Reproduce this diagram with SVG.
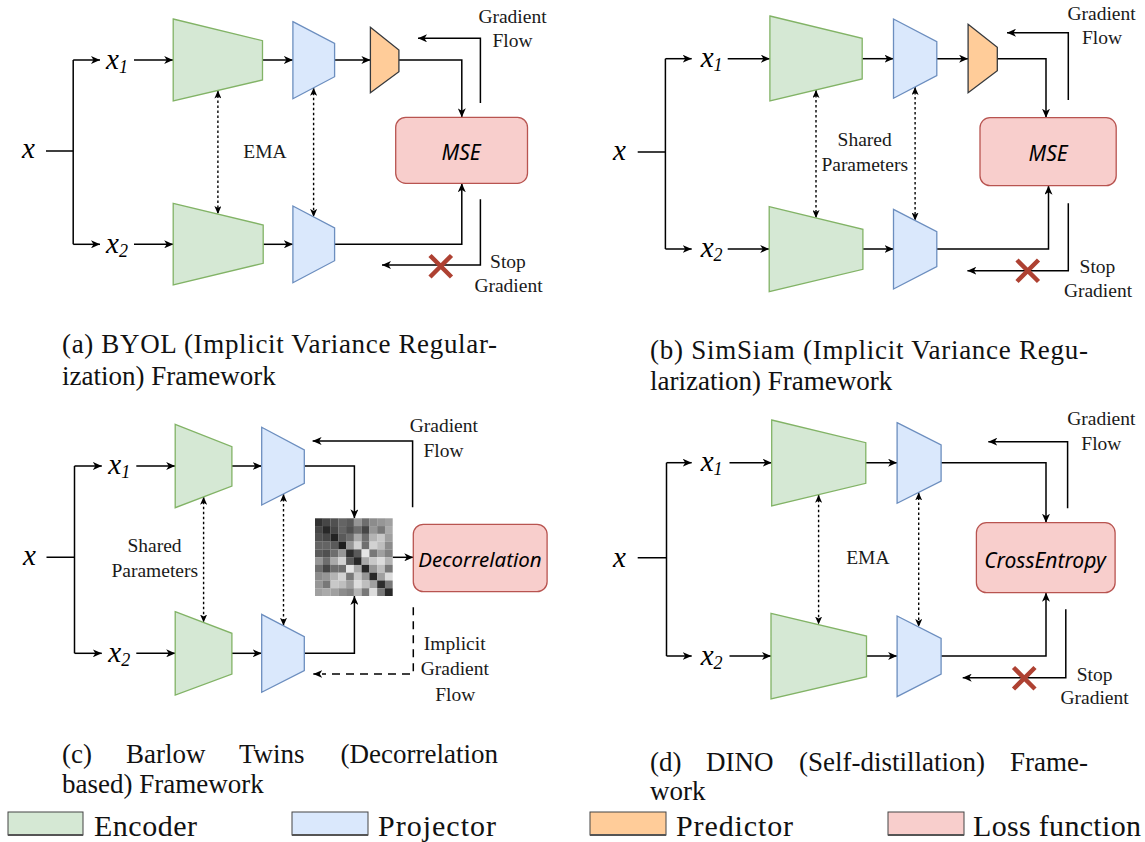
<svg xmlns="http://www.w3.org/2000/svg" width="1145" height="842" viewBox="0 0 1145 842">
<style>
.enc{fill:#d5e8d4;stroke:#82b366;stroke-width:1.3}
.proj{fill:#dae8fc;stroke:#6c8ebf;stroke-width:1.3}
.pred{fill:#ffcc99;stroke:#36393d;stroke-width:1.3}
.loss{fill:#f8cecc;stroke:#b85450;stroke-width:1.3}
.ln{fill:none;stroke:#000;stroke-width:1.5}
.ar{fill:none;stroke:#000;stroke-width:1.5;marker-end:url(#arr)}
.dot{fill:none;stroke:#000;stroke-width:1.4;stroke-dasharray:2.5 2.5;marker-start:url(#sarr);marker-end:url(#sarr)}
.dash{fill:none;stroke:#000;stroke-width:1.5;stroke-dasharray:8 6}
.cross{stroke:#ae4132;stroke-width:4.5;fill:none}
.lbl{font-family:"Liberation Serif",serif;font-size:19.5px;fill:#1a1a1a;text-anchor:middle}
.var{font-family:"Liberation Serif",serif;font-style:italic;font-size:29px;fill:#000}
.sub{font-size:18px}
.lt{font-family:"Noto Sans",sans-serif;font-style:italic;font-size:21px;fill:#000;text-anchor:middle}
.cap{font-family:"Liberation Serif",serif;font-size:27px;fill:#111}
.leg{font-family:"Liberation Serif",serif;font-size:30px;fill:#111}
.lr{stroke:#444;stroke-width:1}
</style>
<defs>
<marker id="arr" viewBox="0 0 9 8" refX="9" refY="4" markerWidth="9" markerHeight="8" markerUnits="userSpaceOnUse" orient="auto"><path d="M0,0 L9,4 L0,8 L2.5,4 z" fill="#000"/></marker>
<marker id="sarr" viewBox="0 0 8 7" refX="8" refY="3.5" markerWidth="8" markerHeight="7" markerUnits="userSpaceOnUse" orient="auto-start-reverse"><path d="M0,0 L8,3.5 L0,7 L2,3.5 z" fill="#000"/></marker>
</defs>
<rect width="1145" height="842" fill="#fff"/>

<!-- connectors -->
<g id="connectors">
<!-- (a) -->
<path class="ln" d="M46,151 H73.2 M73.2,60 V244.3"/>
<path class="ar" d="M73.2,60 H100"/>
<path class="ar" d="M73.2,244.3 H100"/>
<path class="ar" d="M134,60 H173.2"/>
<path class="ar" d="M262.5,60 H292.9"/>
<path class="ar" d="M334.6,60 H370.4"/>
<path class="ar" d="M399,60 H461.8 V117.3"/>
<path class="ar" d="M134,244.3 H173.2"/>
<path class="ar" d="M263.2,244.3 H292.9"/>
<path class="ar" d="M334.6,244.3 H461.8 V183.3"/>
<path class="ar" d="M480.4,103 V38.3 H418"/>
<path class="ar" d="M480.4,199.3 V265 H382"/>
<path class="dot" d="M217.9,90.5 V214.1"/>
<path class="dot" d="M313.6,87.8 V216.9"/>
<!-- (b) -->
<path class="ln" d="M637.7,152 H665.4 M665.4,58.7 V249"/>
<path class="ar" d="M665.4,58.7 H691.7"/>
<path class="ar" d="M665.4,249 H691.7"/>
<path class="ar" d="M727.7,58.7 H769.9"/>
<path class="ar" d="M862.2,58.7 H893.5"/>
<path class="ar" d="M936.8,58.7 H968.1"/>
<path class="ar" d="M997.3,58.7 H1046 V117.7"/>
<path class="ar" d="M727.7,249 H769.2"/>
<path class="ar" d="M862.9,249 H893.5"/>
<path class="ar" d="M936.8,249 H1048.5 V185.7"/>
<path class="ar" d="M1068.3,100 V32.7 H1007"/>
<path class="ar" d="M1068.3,203.3 V270.7 H967.4"/>
<path class="dot" d="M816,90 V218"/>
<path class="dot" d="M915.1,87 V220.5"/>
<!-- (c) -->
<path class="ln" d="M46.5,557.3 H74.5 M74.5,466 V653.3"/>
<path class="ar" d="M74.5,466 H101.8"/>
<path class="ar" d="M74.5,653.3 H101.8"/>
<path class="ar" d="M136.3,466 H175.2"/>
<path class="ar" d="M231.9,466 H261.7"/>
<path class="ar" d="M304.3,466 H354.4 V518.3"/>
<path class="ar" d="M136.3,653.3 H175.2"/>
<path class="ar" d="M231.9,653.3 H261.7"/>
<path class="ar" d="M304.3,653.3 H354.4 V596"/>
<path class="ar" d="M392.7,557.3 H413.3"/>
<path class="ar" d="M412.6,507.3 V441 H312.6"/>
<path class="dash" d="M413.3,607.3 V674 H322"/>
<path class="ar" d="M320,674 H313.3"/>
<path class="dot" d="M203.6,496.8 V622.5"/>
<path class="dot" d="M283.5,493.9 V625.8"/>
<!-- (d) -->
<path class="ln" d="M637.7,557.7 H666.5 M666.5,462.7 V656"/>
<path class="ar" d="M666.5,462.7 H691.7"/>
<path class="ar" d="M666.5,656 H691.7"/>
<path class="ar" d="M729.5,462.7 H771.7"/>
<path class="ar" d="M865.8,462.7 H897.1"/>
<path class="ar" d="M941.1,462.7 H1046 V522.7"/>
<path class="ar" d="M729.5,656 H771"/>
<path class="ar" d="M866.5,656 H897.1"/>
<path class="ar" d="M941.1,656 H1046 V592.7"/>
<path class="ar" d="M1067.6,508.3 V441.7 H988.3"/>
<path class="ar" d="M1065.8,609.3 V677.7 H962.7"/>
<path class="dot" d="M818.6,494.7 V624.6"/>
<path class="dot" d="M918.7,492.4 V627"/>
<!-- stop-gradient crosses -->
<path class="cross" d="M430,255.5 L451.5,277 M451.5,255.5 L430,277"/>
<path class="cross" d="M1017,260 L1038.5,281.5 M1038.5,260 L1017,281.5"/>
<path class="cross" d="M1013.5,667.5 L1035,689 M1035,667.5 L1013.5,689"/>
</g>

<!-- panel (a) -->
<g id="a-x"><text class="var" x="22" y="158">x</text></g>
<g id="a-x1"><text class="var" x="106" y="69">x<tspan class="sub" dy="4">1</tspan></text></g>
<g id="a-x2"><text class="var" x="106" y="253">x<tspan class="sub" dy="4">2</tspan></text></g>
<g id="a-enc1"><polygon class="enc" points="173.2,19 262.5,40.7 262.5,80 173.2,101"/></g>
<g id="a-proj1"><polygon class="proj" points="292.9,21.7 334.6,43.3 334.6,76.7 292.9,98.7"/></g>
<g id="a-pred"><polygon class="pred" points="370.4,27.3 398.9,50 398.9,71.7 370.4,92.7"/></g>
<g id="a-enc2"><polygon class="enc" points="173.2,203.3 263.2,225 263.2,263.3 173.2,285"/></g>
<g id="a-proj2"><polygon class="proj" points="292.9,206 334.6,228 334.6,260.7 292.9,282.7"/></g>
<g id="a-loss"><rect class="loss" x="395.7" y="117.3" width="131.8" height="66" rx="10"/><text class="lt" x="461" y="159.5">MSE</text></g>
<g id="a-labels">
<text class="lbl" x="265" y="157.5">EMA</text>
<text class="lbl" x="512.5" y="23">Gradient</text>
<text class="lbl" x="512.5" y="47">Flow</text>
<text class="lbl" x="508" y="268">Stop</text>
<text class="lbl" x="508.5" y="291.5">Gradient</text>
</g>

<!-- panel (b) -->
<g id="b-x"><text class="var" x="613" y="160">x</text></g>
<g id="b-x1"><text class="var" x="700.7" y="67">x<tspan class="sub" dy="4">1</tspan></text></g>
<g id="b-x2"><text class="var" x="700.7" y="257">x<tspan class="sub" dy="4">2</tspan></text></g>
<g id="b-enc1"><polygon class="enc" points="769.9,16 862.2,38.3 862.2,79 769.9,101"/></g>
<g id="b-proj1"><polygon class="proj" points="893.5,19 936.8,41.7 936.8,75.7 893.5,98.3"/></g>
<g id="b-pred"><polygon class="pred" points="968.1,24.3 997.3,47.3 997.3,70.7 968.1,92.7"/></g>
<g id="b-enc2"><polygon class="enc" points="769.2,206.7 862.9,229.3 862.9,269.3 769.2,291.7"/></g>
<g id="b-proj2"><polygon class="proj" points="893.5,209.3 936.8,231.7 936.8,266.7 893.5,289"/></g>
<g id="b-loss"><rect class="loss" x="980" y="117.7" width="136.2" height="68" rx="10"/><text class="lt" x="1048" y="161">MSE</text></g>
<g id="b-labels">
<text class="lbl" x="864.7" y="146">Shared</text>
<text class="lbl" x="864.7" y="170.5">Parameters</text>
<text class="lbl" x="1101.6" y="20">Gradient</text>
<text class="lbl" x="1102" y="44">Flow</text>
<text class="lbl" x="1097.5" y="273">Stop</text>
<text class="lbl" x="1098" y="297">Gradient</text>
</g>

<!-- panel (c) -->
<g id="c-x"><text class="var" x="23" y="565">x</text></g>
<g id="c-x1"><text class="var" x="108.3" y="474">x<tspan class="sub" dy="4">1</tspan></text></g>
<g id="c-x2"><text class="var" x="108.3" y="661.7">x<tspan class="sub" dy="4">2</tspan></text></g>
<g id="c-enc1"><polygon class="enc" points="175.2,424.3 231.9,446.7 231.9,486 175.2,507.7"/></g>
<g id="c-proj1"><polygon class="proj" points="261.7,427.3 304.3,450 304.3,483.3 261.7,505"/></g>
<g id="c-enc2"><polygon class="enc" points="175.2,611.7 231.9,633.3 231.9,674 175.2,695"/></g>
<g id="c-proj2"><polygon class="proj" points="261.7,614.3 304.3,636.7 304.3,670.7 261.7,692.3"/></g>
<g id="c-matrix" transform="translate(315,518.3) scale(0.777)">
<g>
<rect x="0" y="0" width="10.1" height="10.1" fill="#323232"/><rect x="10" y="0" width="10.1" height="10.1" fill="#464646"/><rect x="20" y="0" width="10.1" height="10.1" fill="#505050"/><rect x="30" y="0" width="10.1" height="10.1" fill="#646464"/><rect x="40" y="0" width="10.1" height="10.1" fill="#5a5a5a"/><rect x="50" y="0" width="10.1" height="10.1" fill="#969696"/><rect x="60" y="0" width="10.1" height="10.1" fill="#6e6e6e"/><rect x="70" y="0" width="10.1" height="10.1" fill="#8c8c8c"/><rect x="80" y="0" width="10.1" height="10.1" fill="#969696"/><rect x="90" y="0" width="10" height="10.1" fill="#a0a0a0"/>
<rect x="0" y="10" width="10.1" height="10.1" fill="#464646"/><rect x="10" y="10" width="10.1" height="10.1" fill="#282828"/><rect x="20" y="10" width="10.1" height="10.1" fill="#464646"/><rect x="30" y="10" width="10.1" height="10.1" fill="#646464"/><rect x="40" y="10" width="10.1" height="10.1" fill="#505050"/><rect x="50" y="10" width="10.1" height="10.1" fill="#6e6e6e"/><rect x="60" y="10" width="10.1" height="10.1" fill="#464646"/><rect x="70" y="10" width="10.1" height="10.1" fill="#969696"/><rect x="80" y="10" width="10.1" height="10.1" fill="#787878"/><rect x="90" y="10" width="10" height="10.1" fill="#aaaaaa"/>
<rect x="0" y="20" width="10.1" height="10.1" fill="#505050"/><rect x="10" y="20" width="10.1" height="10.1" fill="#464646"/><rect x="20" y="20" width="10.1" height="10.1" fill="#232323"/><rect x="30" y="20" width="10.1" height="10.1" fill="#5a5a5a"/><rect x="40" y="20" width="10.1" height="10.1" fill="#6e6e6e"/><rect x="50" y="20" width="10.1" height="10.1" fill="#aaaaaa"/><rect x="60" y="20" width="10.1" height="10.1" fill="#6e6e6e"/><rect x="70" y="20" width="10.1" height="10.1" fill="#b4b4b4"/><rect x="80" y="20" width="10.1" height="10.1" fill="#c8c8c8"/><rect x="90" y="20" width="10" height="10.1" fill="#a0a0a0"/>
<rect x="0" y="30" width="10.1" height="10.1" fill="#646464"/><rect x="10" y="30" width="10.1" height="10.1" fill="#646464"/><rect x="20" y="30" width="10.1" height="10.1" fill="#5a5a5a"/><rect x="30" y="30" width="10.1" height="10.1" fill="#1e1e1e"/><rect x="40" y="30" width="10.1" height="10.1" fill="#969696"/><rect x="50" y="30" width="10.1" height="10.1" fill="#d2d2d2"/><rect x="60" y="30" width="10.1" height="10.1" fill="#6e6e6e"/><rect x="70" y="30" width="10.1" height="10.1" fill="#d2d2d2"/><rect x="80" y="30" width="10.1" height="10.1" fill="#bebebe"/><rect x="90" y="30" width="10" height="10.1" fill="#8c8c8c"/>
<rect x="0" y="40" width="10.1" height="10.1" fill="#5a5a5a"/><rect x="10" y="40" width="10.1" height="10.1" fill="#505050"/><rect x="20" y="40" width="10.1" height="10.1" fill="#6e6e6e"/><rect x="30" y="40" width="10.1" height="10.1" fill="#969696"/><rect x="40" y="40" width="10.1" height="10.1" fill="#2d2d2d"/><rect x="50" y="40" width="10.1" height="10.1" fill="#5a5a5a"/><rect x="60" y="40" width="10.1" height="10.1" fill="#e6e6e6"/><rect x="70" y="40" width="10.1" height="10.1" fill="#787878"/><rect x="80" y="40" width="10.1" height="10.1" fill="#a0a0a0"/><rect x="90" y="40" width="10" height="10.1" fill="#828282"/>
<rect x="0" y="50" width="10.1" height="10.1" fill="#969696"/><rect x="10" y="50" width="10.1" height="10.1" fill="#6e6e6e"/><rect x="20" y="50" width="10.1" height="10.1" fill="#aaaaaa"/><rect x="30" y="50" width="10.1" height="10.1" fill="#d2d2d2"/><rect x="40" y="50" width="10.1" height="10.1" fill="#5a5a5a"/><rect x="50" y="50" width="10.1" height="10.1" fill="#282828"/><rect x="60" y="50" width="10.1" height="10.1" fill="#aaaaaa"/><rect x="70" y="50" width="10.1" height="10.1" fill="#c8c8c8"/><rect x="80" y="50" width="10.1" height="10.1" fill="#dcdcdc"/><rect x="90" y="50" width="10" height="10.1" fill="#b4b4b4"/>
<rect x="0" y="60" width="10.1" height="10.1" fill="#6e6e6e"/><rect x="10" y="60" width="10.1" height="10.1" fill="#464646"/><rect x="20" y="60" width="10.1" height="10.1" fill="#6e6e6e"/><rect x="30" y="60" width="10.1" height="10.1" fill="#6e6e6e"/><rect x="40" y="60" width="10.1" height="10.1" fill="#e6e6e6"/><rect x="50" y="60" width="10.1" height="10.1" fill="#aaaaaa"/><rect x="60" y="60" width="10.1" height="10.1" fill="#282828"/><rect x="70" y="60" width="10.1" height="10.1" fill="#969696"/><rect x="80" y="60" width="10.1" height="10.1" fill="#bebebe"/><rect x="90" y="60" width="10" height="10.1" fill="#787878"/>
<rect x="0" y="70" width="10.1" height="10.1" fill="#8c8c8c"/><rect x="10" y="70" width="10.1" height="10.1" fill="#969696"/><rect x="20" y="70" width="10.1" height="10.1" fill="#b4b4b4"/><rect x="30" y="70" width="10.1" height="10.1" fill="#d2d2d2"/><rect x="40" y="70" width="10.1" height="10.1" fill="#787878"/><rect x="50" y="70" width="10.1" height="10.1" fill="#c8c8c8"/><rect x="60" y="70" width="10.1" height="10.1" fill="#969696"/><rect x="70" y="70" width="10.1" height="10.1" fill="#282828"/><rect x="80" y="70" width="10.1" height="10.1" fill="#a0a0a0"/><rect x="90" y="70" width="10" height="10.1" fill="#dcdcdc"/>
<rect x="0" y="80" width="10.1" height="10.1" fill="#969696"/><rect x="10" y="80" width="10.1" height="10.1" fill="#787878"/><rect x="20" y="80" width="10.1" height="10.1" fill="#c8c8c8"/><rect x="30" y="80" width="10.1" height="10.1" fill="#bebebe"/><rect x="40" y="80" width="10.1" height="10.1" fill="#a0a0a0"/><rect x="50" y="80" width="10.1" height="10.1" fill="#dcdcdc"/><rect x="60" y="80" width="10.1" height="10.1" fill="#bebebe"/><rect x="70" y="80" width="10.1" height="10.1" fill="#a0a0a0"/><rect x="80" y="80" width="10.1" height="10.1" fill="#2d2d2d"/><rect x="90" y="80" width="10" height="10.1" fill="#787878"/>
<rect x="0" y="90" width="10.1" height="10" fill="#a0a0a0"/><rect x="10" y="90" width="10.1" height="10" fill="#aaaaaa"/><rect x="20" y="90" width="10.1" height="10" fill="#a0a0a0"/><rect x="30" y="90" width="10.1" height="10" fill="#8c8c8c"/><rect x="40" y="90" width="10.1" height="10" fill="#828282"/><rect x="50" y="90" width="10.1" height="10" fill="#b4b4b4"/><rect x="60" y="90" width="10.1" height="10" fill="#787878"/><rect x="70" y="90" width="10.1" height="10" fill="#dcdcdc"/><rect x="80" y="90" width="10.1" height="10" fill="#787878"/><rect x="90" y="90" width="10" height="10" fill="#282828"/>
</g>
</g>
<g id="c-loss"><rect class="loss" x="413.3" y="524.3" width="133.8" height="67.4" rx="10"/><text class="lt" x="480" y="566.5" style="font-size:20.5px">Decorrelation</text></g>
<g id="c-labels">
<text class="lbl" x="154.5" y="552">Shared</text>
<text class="lbl" x="154.8" y="576.5">Parameters</text>
<text class="lbl" x="443.8" y="432">Gradient</text>
<text class="lbl" x="443.5" y="457">Flow</text>
<text class="lbl" x="454.7" y="650">Implicit</text>
<text class="lbl" x="454.8" y="675">Gradient</text>
<text class="lbl" x="455.3" y="700.5">Flow</text>
</g>

<!-- panel (d) -->
<g id="d-x"><text class="var" x="613" y="566.5">x</text></g>
<g id="d-x1"><text class="var" x="700.7" y="471">x<tspan class="sub" dy="4">1</tspan></text></g>
<g id="d-x2"><text class="var" x="700.7" y="665">x<tspan class="sub" dy="4">2</tspan></text></g>
<g id="d-enc1"><polygon class="enc" points="771.7,420 865.8,442.7 865.8,483.3 771.7,506"/></g>
<g id="d-proj1"><polygon class="proj" points="897.1,422.7 941.1,445 941.1,481 897.1,503.3"/></g>
<g id="d-enc2"><polygon class="enc" points="771,613.3 866.5,636 866.5,676.7 771,699"/></g>
<g id="d-proj2"><polygon class="proj" points="897.1,616 941.1,638.3 941.1,674 897.1,696.7"/></g>
<g id="d-loss"><rect class="loss" x="976.4" y="522.7" width="138.7" height="70" rx="10"/><text class="lt" x="1045" y="567.5">CrossEntropy</text></g>
<g id="d-labels">
<text class="lbl" x="867.8" y="564">EMA</text>
<text class="lbl" x="1101.3" y="425">Gradient</text>
<text class="lbl" x="1101.4" y="450">Flow</text>
<text class="lbl" x="1094.6" y="681">Stop</text>
<text class="lbl" x="1094.6" y="704">Gradient</text>
</g>

<!-- captions -->
<g id="captions">
<text class="cap" x="62" y="353" textLength="435" lengthAdjust="spacing">(a) BYOL (Implicit Variance Regular-</text>
<text class="cap" x="62" y="385">ization) Framework</text>
<text class="cap" x="650" y="359" textLength="438" lengthAdjust="spacing">(b) SimSiam (Implicit Variance Regu-</text>
<text class="cap" x="650" y="390">larization) Framework</text>
<text class="cap" y="763"><tspan x="62">(c)</tspan><tspan x="126">Barlow</tspan><tspan x="239">Twins</tspan></text>
<text class="cap" x="498" y="763" text-anchor="end">(Decorrelation</text>
<text class="cap" x="62" y="793">based) Framework</text>
<text class="cap" y="771"><tspan x="650">(d)</tspan><tspan x="706">DINO</tspan><tspan x="799">(Self-distillation)</tspan></text>
<text class="cap" x="1088" y="771" text-anchor="end">Frame-</text>
<text class="cap" x="650" y="800">work</text>
</g>

<!-- legend -->
<g id="legend">
<g id="leg-enc"><rect class="lr" x="8" y="812" width="75" height="23" fill="#d5e8d4"/><path d="M8,835 H83" stroke="#555" stroke-width="2"/><text class="leg" x="94" y="836" textLength="103" lengthAdjust="spacing">Encoder</text></g>
<g id="leg-proj"><rect class="lr" x="292" y="812" width="76" height="23" fill="#dae8fc"/><path d="M292,835 H368" stroke="#555" stroke-width="2"/><text class="leg" x="378" y="836" textLength="118" lengthAdjust="spacing">Projector</text></g>
<g id="leg-pred"><rect class="lr" x="590" y="812" width="76" height="23" fill="#ffcc99"/><path d="M590,835 H666" stroke="#555" stroke-width="2"/><text class="leg" x="676" y="836" textLength="117" lengthAdjust="spacing">Predictor</text></g>
<g id="leg-loss"><rect class="lr" x="888" y="812" width="76" height="23" fill="#f8cecc"/><path d="M888,835 H964" stroke="#555" stroke-width="2"/><text class="leg" x="973" y="836" textLength="168" lengthAdjust="spacing">Loss function</text></g>
</g>
</svg>
